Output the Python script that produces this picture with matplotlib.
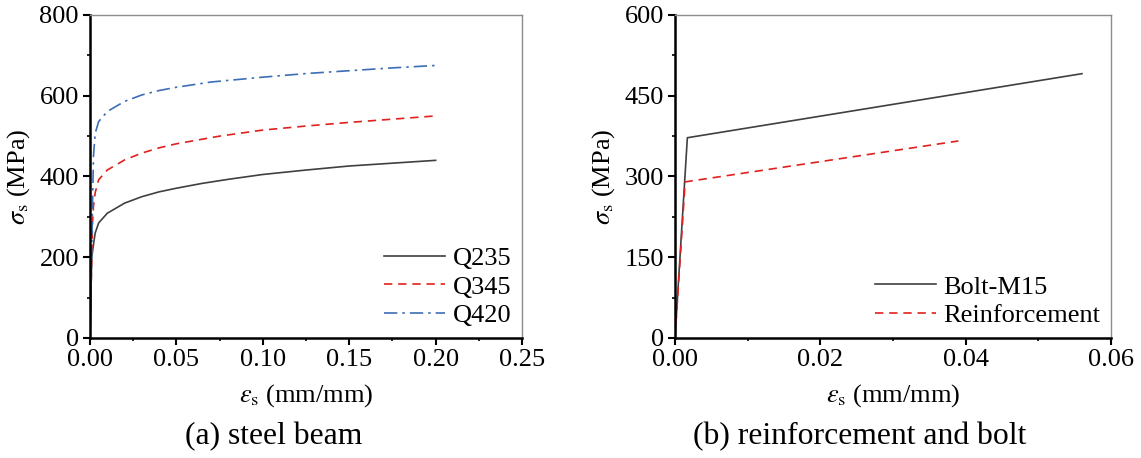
import numpy as np
import matplotlib
matplotlib.use("Agg")
import matplotlib.pyplot as plt
from matplotlib.ticker import MultipleLocator, FormatStrFormatter

plt.rcParams["font.family"] = ["Liberation Serif", "DejaVu Serif"]
plt.rcParams["mathtext.fontset"] = "stix"

# steel beam stress-strain curves (strain mm/mm, stress MPa)
q235_eps = [0, 0.0006, 0.001, 0.002, 0.003, 0.005, 0.01, 0.02, 0.03, 0.04, 0.05, 0.065, 0.08, 0.1, 0.125, 0.15, 0.175, 0.2]
q235_sig = [0, 120, 200, 231, 260, 285, 309, 334, 350, 362, 371, 383, 393, 405, 416, 426, 433, 440]
q345_eps = [0, 0.0008, 0.0014, 0.002, 0.003, 0.005, 0.01, 0.02, 0.03, 0.04, 0.05, 0.075, 0.1, 0.125, 0.15, 0.175, 0.2]
q345_sig = [0, 160, 280, 326, 360, 392, 416, 441, 458, 471, 481, 500, 515, 525, 534, 542, 550]
q420_eps = [0, 0.0008, 0.0015, 0.002, 0.003, 0.005, 0.01, 0.02, 0.03, 0.04, 0.05, 0.07, 0.1, 0.125, 0.15, 0.175, 0.2]
q420_sig = [0, 170, 340, 450, 507, 536, 561, 586, 602, 613, 621, 634, 646, 655, 662, 669, 675]

# reinforcement and bolt (bilinear)
bolt_eps = [0, 0.0017, 0.056]
bolt_sig = [0, 372, 491]
rebar_eps = [0, 0.0014, 0.039]
rebar_sig = [0, 290, 366]

W, H = 1141, 458
fig = plt.figure(figsize=(W / 100, H / 100), dpi=100)
ax1 = fig.add_axes([90 / W, (H - 338) / H, 432 / W, 323 / H])
ax2 = fig.add_axes([675 / W, (H - 338) / H, 436 / W, 323 / H])

fs = 19

ax1.plot(q235_eps, q235_sig, color="#404040", lw=1.2, label="Q235")
ax1.plot(q345_eps, q345_sig, color="#e0201e", lw=1.2, ls=(0, (5, 3.5)), label="Q345")
ax1.plot(q420_eps, q420_sig, color="#3c6db5", lw=1.2, ls=(0, (8, 3, 1.5, 3)), label="Q420")
ax1.set_xlim(0, 0.25)
ax1.set_ylim(0, 800)
ax1.xaxis.set_major_locator(MultipleLocator(0.05))
ax1.xaxis.set_minor_locator(MultipleLocator(0.025))
ax1.yaxis.set_major_locator(MultipleLocator(200))
ax1.yaxis.set_minor_locator(MultipleLocator(100))
ax1.xaxis.set_major_formatter(FormatStrFormatter("%.2f"))

ax2.plot(bolt_eps, bolt_sig, color="#404040", lw=1.2, label="Bolt-M15")
ax2.plot(rebar_eps, rebar_sig, color="#e0201e", lw=1.2, ls=(0, (5, 3.5)), label="Reinforcement")
ax2.set_xlim(0, 0.06)
ax2.set_ylim(0, 600)
ax2.xaxis.set_major_locator(MultipleLocator(0.02))
ax2.xaxis.set_minor_locator(MultipleLocator(0.01))
ax2.yaxis.set_major_locator(MultipleLocator(150))
ax2.yaxis.set_minor_locator(MultipleLocator(75))
ax2.xaxis.set_major_formatter(FormatStrFormatter("%.2f"))

for ax in (ax1, ax2):
    for s in ["left", "bottom"]:
        ax.spines[s].set_color("black")
        ax.spines[s].set_linewidth(1.8)
    for s in ["top", "right"]:
        ax.spines[s].set_color("#8c8c8c")
        ax.spines[s].set_linewidth(1.0)
    ax.tick_params(which="major", direction="out", length=5, width=1.5, labelsize=fs, pad=3)
    ax.tick_params(which="minor", direction="out", length=2.5, width=1.2)
    ax.set_xlabel(r"$\varepsilon_\mathrm{s}$ (mm/mm)", fontsize=fs, labelpad=8)
    ax.set_ylabel(r"$\sigma_\mathrm{s}$ (MPa)", fontsize=fs, labelpad=5)
    ax.legend(loc="lower right", frameon=False, fontsize=fs, handlelength=2.3,
              handletextpad=0.3, labelspacing=0.2, borderaxespad=0.1, borderpad=0.3)

# panel captions
fig.text(274 / W, 1 - 437 / H, "(a) steel beam", ha="center", va="center", fontsize=22.8)
fig.text(860 / W, 1 - 437 / H, "(b) reinforcement and bolt", ha="center", va="center", fontsize=22.8)

fig.savefig("out.png", dpi=100)
